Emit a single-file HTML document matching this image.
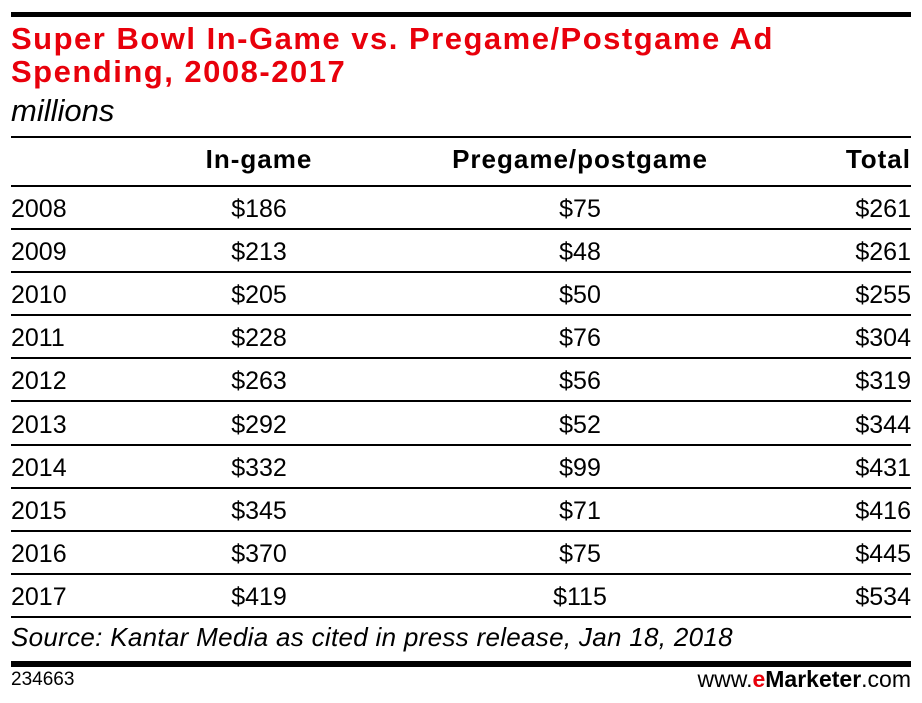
<!DOCTYPE html>
<html><head><meta charset="utf-8"><style>
body{margin:0;width:922px;height:703px;background:#fff;font-family:"Liberation Sans",sans-serif;position:relative;overflow:hidden;color:#000}
.a{position:absolute;white-space:nowrap}
.hr{position:absolute;left:11px;width:900px;background:#000}
.t{color:#e8000b;font-weight:bold;font-size:31px;left:11px;line-height:33px;letter-spacing:1.5px}
.r{font-size:25px;line-height:26px}
.h{font-weight:bold;font-size:26px;letter-spacing:1px}
.c1{width:200px;left:159px;text-align:center}
.c2{width:340px;left:410px;text-align:center}
.c3{right:11px;text-align:right}
</style></head><body>
<div class="hr" style="top:12px;height:5px"></div>
<div class="a t" style="top:22px">Super Bowl In-Game vs. Pregame/Postgame Ad<br>Spending, 2008-2017</div>
<div class="a" style="left:11px;top:93px;font-size:31px;font-style:italic">millions</div>
<div class="hr" style="top:136px;height:2px"></div>
<div class="a r c1 h" style="top:146px">In-game</div>
<div class="a r c2 h" style="top:146px">Pregame/postgame</div>
<div class="a r c3 h" style="top:146px">Total</div>
<div class="hr" style="top:185px;height:2px"></div>
<div id="rows"></div>
<script>
var d=[[2008,186,75,261],[2009,213,48,261],[2010,205,50,255],[2011,228,76,304],[2012,263,56,319],[2013,292,52,344],[2014,332,99,431],[2015,345,71,416],[2016,370,75,445],[2017,419,115,534]];
var h='';d.forEach(function(r,i){var y=196+i*43.1;
h+='<div class="a r" style="left:11px;top:'+y+'px">'+r[0]+'</div><div class="a r c1" style="top:'+y+'px">$'+r[1]+'</div><div class="a r c2" style="top:'+y+'px">$'+r[2]+'</div><div class="a r c3" style="top:'+y+'px">$'+r[3]+'</div><div class="hr" style="top:'+(228+i*43.1)+'px;height:2px"></div>';});
document.getElementById('rows').innerHTML=h;
</script>
<div class="a" style="left:11px;top:622px;font-size:26px;font-style:italic;letter-spacing:0.3px">Source: Kantar Media as cited in press release, Jan 18, 2018</div>
<div class="hr" style="top:661px;height:6px"></div>
<div class="a" style="left:11px;top:669px;font-size:19px">234663</div>
<div class="a" style="right:11px;top:666px;font-size:23px">www.<b style="color:#e8000b">e</b><b>Marketer</b>.com</div>
</body></html>
